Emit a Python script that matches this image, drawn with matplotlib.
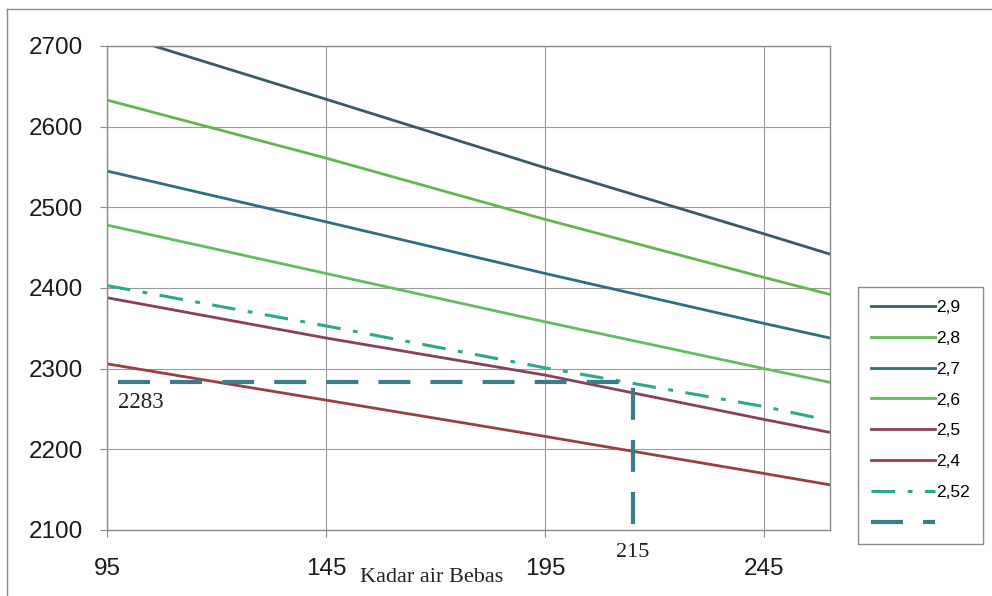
import matplotlib
matplotlib.use("Agg")
import matplotlib.pyplot as plt
from matplotlib.lines import Line2D

# water content (x) and density curves per specific gravity
x_vals = [95, 145, 195, 245, 260]
x_252 = [95, 145, 195, 245, 257]

sg_29 = [2718, 2634, 2549, 2467, 2442]
sg_28 = [2633, 2561, 2485, 2413, 2392]
sg_27 = [2545, 2482, 2418, 2356, 2338]
sg_26 = [2478, 2418, 2358, 2300, 2283]
sg_25 = [2388, 2338, 2292, 2237, 2221]
sg_24 = [2306, 2261, 2216, 2170, 2156]
sg_252 = [2403, 2353, 2301, 2253, 2239]

# reading for the design point
read_x = [97.5, 215, 215]
read_y = [2283, 2283, 2100]
read_value = "2283"
read_water = "215"

x_ticks = [95, 145, 195, 245]
y_ticks = [2100, 2200, 2300, 2400, 2500, 2600, 2700]

SERIES = [
    (sg_29, "2,9", "#3b5865"),
    (sg_28, "2,8", "#63b54f"),
    (sg_27, "2,7", "#2e6e80"),
    (sg_26, "2,6", "#66bb60"),
    (sg_25, "2,5", "#87405f"),
    (sg_24, "2,4", "#9a3d46"),
]

plt.rcParams["font.family"] = ["Liberation Sans", "DejaVu Sans"]
plt.rcParams["lines.scale_dashes"] = False

fig = plt.figure(figsize=(9.92, 5.96), dpi=100)
ax = fig.add_axes([107 / 992, 1 - 530 / 596, 723 / 992, 484 / 596])

handles = []
labels = []
for y, label, color in SERIES:
    (ln,) = ax.plot(x_vals, y, color=color, linewidth=2.0)
    handles.append(ln)
    labels.append(label)

(ln,) = ax.plot(x_252, sg_252, color="#2ea88c", linewidth=2.2,
                linestyle=(0, (17, 9, 3.5, 9)))
handles.append(ln)
labels.append("2,52")

(ln,) = ax.plot(read_x, read_y, color="#3a7d87", linewidth=3.0,
                linestyle=(0, (23, 14.5)))
handles.append(ln)
labels.append("")

ax.set_xlim(95, 260)
ax.set_ylim(2100, 2700)
ax.set_xticks(x_ticks)
ax.set_yticks(y_ticks)
ax.grid(True, color="#9a9a9a", linewidth=0.8)
ax.set_axisbelow(True)
for sp in ax.spines.values():
    sp.set_color("#8a8a8a")
    sp.set_linewidth(1.0)
ax.tick_params(axis="both", direction="out", color="#8a8a8a", length=5,
               labelsize=17.5, labelcolor="#1a1a1a")
ax.tick_params(axis="y", pad=12)
ax.tick_params(axis="x", pad=15)

serif = ["Liberation Serif", "DejaVu Serif"]
ax.text(read_x[0], 2251, read_value, family=serif, fontsize=16.5,
        color="#222222", va="baseline", ha="left")
ax.annotate(read_water, xy=(read_x[1], 0), xycoords=("data", "axes fraction"),
            xytext=(0, -16), textcoords="offset points", family=serif,
            fontsize=16, color="#222222", ha="center", va="center")
fig.text(432 / 992, 1 - 582 / 596, "Kadar air Bebas", family=serif,
         fontsize=16, color="#222222", ha="center", va="baseline")

leg = fig.legend(handles, labels, loc="upper left",
                 bbox_to_anchor=(858 / 992, 1 - 287 / 596), borderaxespad=0,
                 fontsize=12.5, handlelength=3.7, handletextpad=0.05,
                 labelspacing=0.9, borderpad=0.75, fancybox=False,
                 framealpha=1, edgecolor="#8a8a8a")
leg.get_frame().set_linewidth(1.0)

# outer frame around the figure
fig.add_artist(Line2D([7 / 992, 7 / 992], [0, 1 - 9 / 596],
                      transform=fig.transFigure, color="#8a8a8a", linewidth=1))
fig.add_artist(Line2D([7 / 992, 1], [1 - 9 / 596, 1 - 9 / 596],
                      transform=fig.transFigure, color="#8a8a8a", linewidth=1))

fig.savefig("out.png", dpi=100)
